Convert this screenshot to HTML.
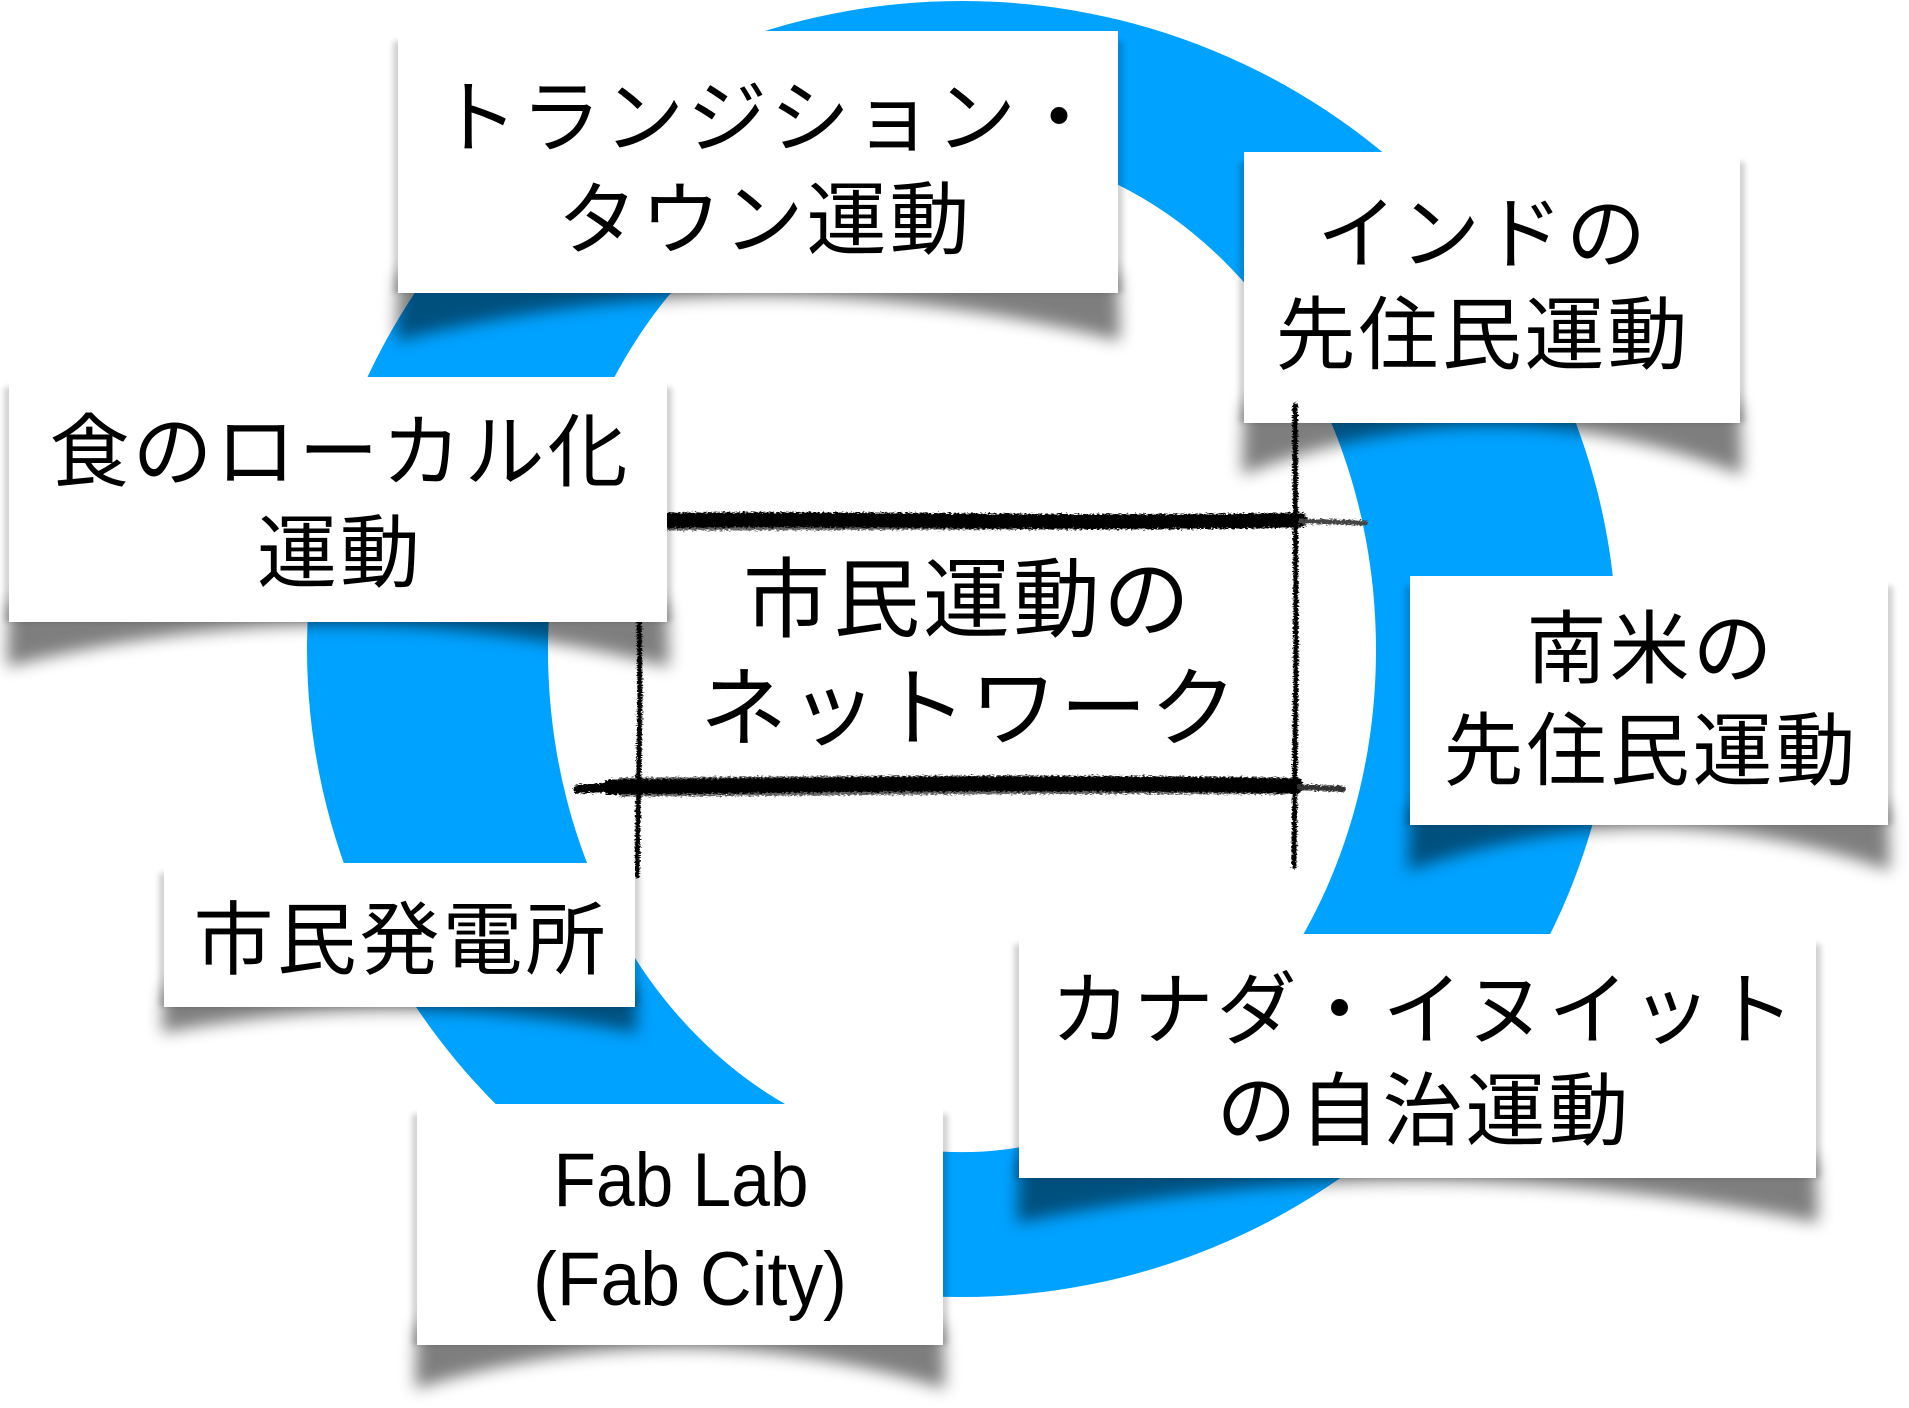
<!DOCTYPE html>
<html><head><meta charset="utf-8"><style>
html,body{margin:0;padding:0;background:#fff;width:1909px;height:1408px;overflow:hidden}
svg{display:block}
.jp{font-family:"Liberation Sans","Noto Sans CJK JP",sans-serif;font-size:80px;letter-spacing:3px;fill:#000}
.cen{font-family:"Liberation Sans","Noto Sans CJK JP",sans-serif;font-size:87px;letter-spacing:3px;fill:#000}
.lat{font-family:"Liberation Sans",sans-serif;font-size:76px;fill:#000}
</style></head><body>
<svg width="1909" height="1408" viewBox="0 0 1909 1408" xmlns="http://www.w3.org/2000/svg">
<defs>
<filter id="bl" filterUnits="userSpaceOnUse" x="0" y="0" width="1909" height="1408"><feGaussianBlur stdDeviation="8"/></filter>
<filter id="bs" filterUnits="userSpaceOnUse" x="0" y="0" width="1909" height="1408"><feGaussianBlur stdDeviation="3"/></filter>
<filter id="rough" filterUnits="userSpaceOnUse" x="0" y="0" width="1909" height="1408">
<feTurbulence type="fractalNoise" baseFrequency="0.35 0.9" numOctaves="2" seed="7" result="t"/>
<feDisplacementMap in="SourceGraphic" in2="t" scale="6" xChannelSelector="R" yChannelSelector="G"/>
</filter>
</defs>

<!-- ring -->
<path fill="#00a2ff" fill-rule="evenodd" d="M307,649 A655,648 0 1 0 1617,649 A655,648 0 1 0 307,649 Z M548,650 A414,502 0 1 0 1376,650 A414,502 0 1 0 548,650 Z"/>

<!-- India box -->
<rect x="1239" y="162" width="506" height="261" fill="#000" opacity="0.18" filter="url(#bs)"/>
<path d="M1244,403 L1740,403 L1742,475 Q1492,377 1242,475 Z" fill="#000" opacity="0.5" filter="url(#bl)"/>
<rect x="1244" y="152" width="496" height="271" fill="#fff"/>
<text class="jp" x="1483" y="262" text-anchor="middle">インドの</text>
<text class="jp" x="1483" y="363" text-anchor="middle">先住民運動</text>

<!-- sketch lines -->
<g filter="url(#rough)" stroke="#000" fill="none" stroke-linecap="round">
<path d="M640,521 C850,517 1080,525 1300,520" stroke-width="15"/>
<path d="M660,514 C850,512 1080,518 1290,515" stroke-width="3" opacity="0.6"/>
<path d="M660,529 C850,530 1080,528 1290,526" stroke-width="3" opacity="0.6"/>
<path d="M1296,521 L1365,523" stroke-width="5" stroke="#444"/>
<path d="M578,789 L620,787" stroke-width="9"/>
<path d="M610,787 C780,786 1000,781 1296,786" stroke-width="15"/>
<path d="M620,779 C780,778 1000,775 1290,779" stroke-width="3" opacity="0.6"/>
<path d="M620,795 C780,795 1000,791 1290,793" stroke-width="3" opacity="0.6"/>
<path d="M1296,787 L1343,789" stroke-width="6" stroke="#333"/>
<path d="M638,500 L640,700 L637,876" stroke-width="5"/>
<path d="M1295,405 L1296,650 L1294,867" stroke-width="5"/>
</g>

<!-- Transition box -->
<rect x="393" y="41" width="730" height="252" fill="#000" opacity="0.18" filter="url(#bs)"/>
<path d="M398,273 L1118,273 L1120,341 Q758,251 396,341 Z" fill="#000" opacity="0.5" filter="url(#bl)"/>
<rect x="398" y="31" width="720" height="262" fill="#fff"/>
<text class="jp" x="770" y="146" text-anchor="middle">トランジション・</text>
<text class="jp" x="765" y="248" text-anchor="middle">タウン運動</text>

<!-- Food box -->
<rect x="4" y="387" width="668" height="235" fill="#000" opacity="0.18" filter="url(#bs)"/>
<path d="M9,602 L667,602 L669,667 Q338,583 7,667 Z" fill="#000" opacity="0.5" filter="url(#bl)"/>
<rect x="9" y="377" width="658" height="245" fill="#fff"/>
<text class="jp" x="340" y="480" text-anchor="middle">食のローカル化</text>
<text class="jp" x="340" y="581" text-anchor="middle">運動</text>

<!-- South America box -->
<rect x="1405" y="586" width="488" height="239" fill="#000" opacity="0.18" filter="url(#bs)"/>
<path d="M1410,805 L1888,805 L1890,871 Q1649,785 1408,871 Z" fill="#000" opacity="0.5" filter="url(#bl)"/>
<rect x="1410" y="576" width="478" height="249" fill="#fff"/>
<text class="jp" x="1651" y="677" text-anchor="middle">南米の</text>
<text class="jp" x="1651" y="779" text-anchor="middle">先住民運動</text>

<!-- Citizen power plant box -->
<rect x="159" y="873" width="481" height="134" fill="#000" opacity="0.18" filter="url(#bs)"/>
<path d="M164,987 L635,987 L637,1033 Q400,987 162,1033 Z" fill="#000" opacity="0.5" filter="url(#bl)"/>
<rect x="164" y="863" width="471" height="144" fill="#fff"/>
<text class="jp" x="401" y="968" text-anchor="middle">市民発電所</text>

<!-- Canada box -->
<rect x="1014" y="944" width="807" height="234" fill="#000" opacity="0.18" filter="url(#bs)"/>
<path d="M1019,1158 L1816,1158 L1818,1223 Q1418,1139 1017,1223 Z" fill="#000" opacity="0.5" filter="url(#bl)"/>
<rect x="1019" y="934" width="797" height="244" fill="#fff"/>
<text class="jp" x="1424" y="1038" text-anchor="middle">カナダ・イヌイット</text>
<text class="jp" x="1424" y="1139" text-anchor="middle">の自治運動</text>

<!-- Fab Lab box -->
<rect x="412" y="1114" width="536" height="231" fill="#000" opacity="0.18" filter="url(#bs)"/>
<path d="M417,1325 L943,1325 L945,1389 Q680,1307 415,1389 Z" fill="#000" opacity="0.5" filter="url(#bl)"/>
<rect x="417" y="1104" width="526" height="241" fill="#fff"/>
<text class="lat" x="681" y="1206" text-anchor="middle" textLength="255" lengthAdjust="spacingAndGlyphs">Fab Lab</text>
<text class="lat" x="690" y="1305" text-anchor="middle" textLength="314" lengthAdjust="spacingAndGlyphs">(Fab City)</text>

<!-- Center label -->
<text class="cen" x="968" y="630" text-anchor="middle">市民運動の</text>
<text class="cen" x="970" y="739" text-anchor="middle">ネットワーク</text>
</svg>
</body></html>
